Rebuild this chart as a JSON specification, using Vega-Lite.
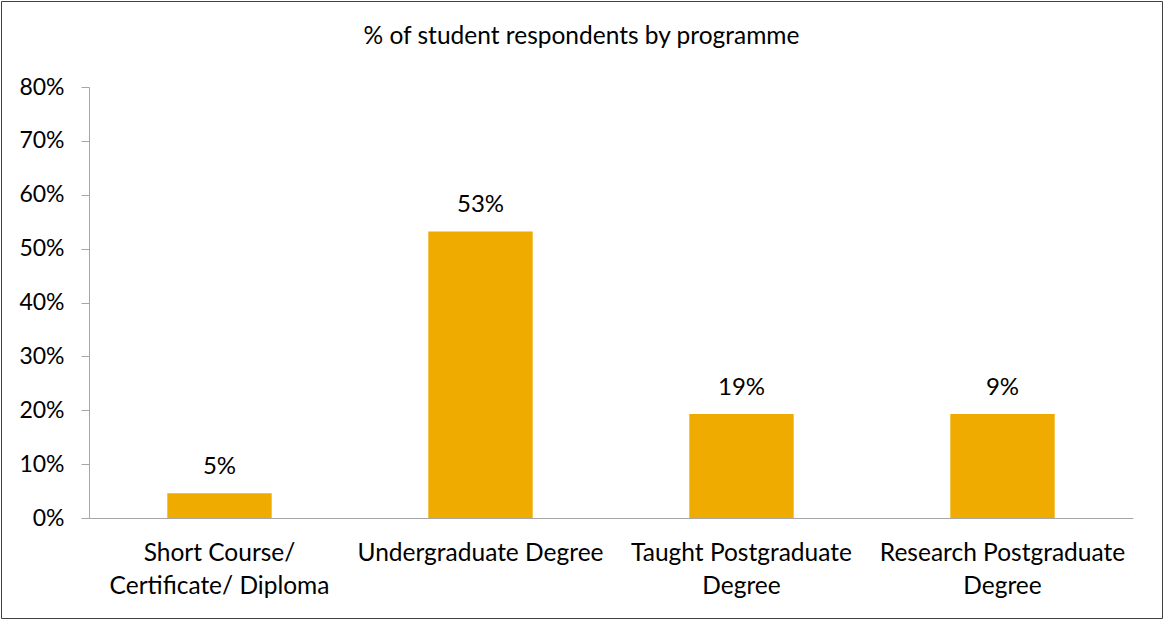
{
  "$schema": "https://vega.github.io/schema/vega-lite/v6.json",
  "width": 1161,
  "height": 617,
  "padding": 1,
  "autosize": {"type": "none"},
  "background": "white",
  "config": {
    "view": {"stroke": "#404040", "strokeWidth": 1},
    "font": "Lato",
    "axis": {"labelFont": "Lato", "labelFontSize": 24.5, "labelColor": "#000000", "domainColor": "#A6A6A6", "tickColor": "#A6A6A6", "grid": false, "title": null}
  },
  "title": {"text": "% of student respondents by programme", "font": "Lato", "fontSize": 24.5, "fontWeight": "normal", "color": "#000000", "anchor": "middle", "frame": "group", "baseline": "alphabetic", "offset": -67},
  "data": {"values": [
    {"programme": "Short Course/ Certificate/ Diploma", "share": 0.046, "label": "5%"},
    {"programme": "Undergraduate Degree", "share": 0.532, "label": "53%"},
    {"programme": "Taught Postgraduate Degree", "share": 0.193, "label": "19%"},
    {"programme": "Research Postgraduate Degree", "share": 0.193, "label": "9%"}
  ]},
  "encoding": {
    "x": {"field": "programme", "type": "nominal", "sort": null,
      "scale": {"range": [88, 1132], "paddingInner": 0.6, "paddingOuter": 0.3},
      "axis": {"orient": "bottom", "offset": -100, "ticks": false, "labelAngle": 0, "labelPadding": 23, "labelLineHeight": 33, "labelLimit": 400,
        "labelExpr": "datum.value == 'Short Course/ Certificate/ Diploma' ? ['Short Course/', 'Certificate/ Diploma'] : datum.value == 'Taught Postgraduate Degree' ? ['Taught Postgraduate', 'Degree'] : datum.value == 'Research Postgraduate Degree' ? ['Research Postgraduate', 'Degree'] : datum.value"}},
    "y": {"field": "share", "type": "quantitative",
      "scale": {"domain": [0, 0.8], "range": [517, 86], "nice": false, "zero": true},
      "axis": {"orient": "left", "offset": -88, "values": [0, 0.1, 0.2, 0.3, 0.4, 0.5, 0.6, 0.7, 0.8], "format": ".0%", "tickSize": 8, "labelPadding": 17, "labelFontSize": 23}}
  },
  "layer": [
    {"mark": {"type": "bar", "color": "#F0AB00"}},
    {"mark": {"type": "text", "baseline": "alphabetic", "dy": -19, "fontSize": 24, "font": "Lato", "color": "#000000"},
      "encoding": {"text": {"field": "label"}}}
  ]
}
